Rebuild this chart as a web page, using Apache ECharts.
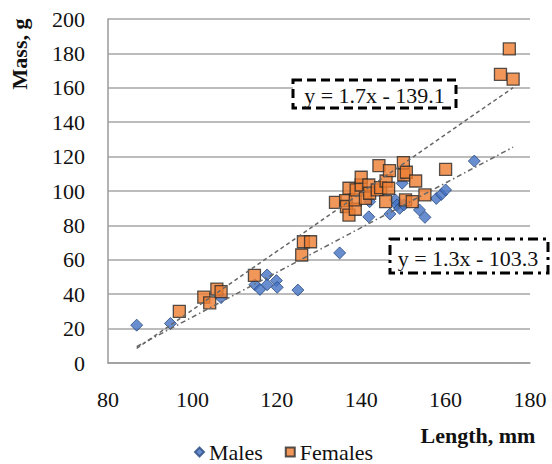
<!DOCTYPE html>
<html>
<head>
<meta charset="utf-8">
<script src="https://cdn.jsdelivr.net/npm/echarts@6.0.0/dist/echarts.min.js"></script>
<style>
html,body{margin:0;padding:0;background:#fff;}
#chart{width:552px;height:464px;}
</style>
</head>
<body>
<div id="chart"></div>
<script>
// ---- data ----
const malesLength = [86.8, 94.8, 106.8, 114.8, 116, 117.7, 117.7, 119.9, 120.1, 125, 134.9, 141.8, 142, 146.8, 148.1, 148.5, 149.1, 149.7, 150.1, 153.8, 155.1, 157.8, 159, 160, 166.8];
const malesMass   = [22, 23, 38, 45.5, 42.8, 51.2, 45.5, 47.9, 44, 42.4, 64, 85, 93.8, 86.6, 94.8, 91.9, 89.9, 104.5, 91.9, 89, 84.7, 95.7, 98, 100.6, 117.4];

const femalesLength = [96.9, 102.7, 104.1, 105.8, 106.8, 114.7, 125.9, 126.3, 128,
  133.9, 136.3, 136.5, 137.1, 137.1, 138.6, 138.6, 138.8, 140, 140, 141, 141.8, 142, 143.8, 144.2, 144.6, 145.8, 145.9, 146.5, 146.7, 150, 150.1, 150.7, 150.5, 152.1, 152.9, 155.1, 160,
  173, 175.1, 176];
const femalesMass = [30, 38.3, 35, 43, 41.5, 51, 62.8, 70.5, 70.5,
  93.4, 94.4, 91, 86, 101.6, 89.4, 94.8, 100.6, 103.5, 108, 95.7, 103.5, 98.7, 100.6, 114.7, 102, 93.8, 105.8, 101.6, 111.8, 116.5, 109.3, 110.9, 94.8, 93.8, 105.8, 97.7, 112.6,
  167.8, 182.6, 165];

const seriesNames = ['Males', 'Females'];
const fitSlopes = [1.3, 1.7];
const fitIntercepts = [-103.3, -139.1];
const fitRange = [86.8, 176];
const fitLabels = ['y = 1.3x - 103.3', 'y = 1.7x - 139.1'];
const xTicks = [80, 100, 120, 140, 160, 180];
const yTicks = [0, 20, 40, 60, 80, 100, 120, 140, 160, 180, 200];

// ---- build ----
const pairs = (xs, ys) => xs.map((x, i) => [x, ys[i]]);
const fitLine = (k) => fitRange.map(x => [x, +(fitSlopes[k] * x + fitIntercepts[k]).toFixed(2)]);
const FONT = "'Liberation Serif','Times New Roman',serif";
const FS = 22;

const chart = echarts.init(document.getElementById('chart'), null, {renderer: 'svg'});
chart.setOption({
  animation: false,
  backgroundColor: '#fff',
  grid: {left: 108, right: 22, top: 19, bottom: 101},
  xAxis: {
    type: 'value', min: xTicks[0], max: xTicks[xTicks.length - 1], interval: 20,
    axisLine: {show: true, lineStyle: {color: '#9a9a9a', width: 1.5}},
    axisTick: {show: false},
    splitLine: {show: false},
    axisLabel: {margin: 25, fontFamily: FONT, fontSize: FS, color: '#111'}
  },
  yAxis: {
    type: 'value', min: yTicks[0], max: yTicks[yTicks.length - 1], interval: 20,
    axisLine: {show: true, lineStyle: {color: '#9a9a9a', width: 1.5}},
    axisTick: {show: false},
    splitLine: {show: true, lineStyle: {color: '#a6a6a6', width: 1.5}},
    axisLabel: {margin: 23, fontFamily: FONT, fontSize: FS, color: '#111'}
  },
  legend: {
    data: [{name: seriesNames[0], icon: 'diamond'}, {name: seriesNames[1], icon: 'rect'}],
    left: 194, top: 441, itemWidth: 9, itemHeight: 9, itemGap: 22, padding: 0,
    textStyle: {fontFamily: FONT, fontSize: FS, color: '#111'}
  },
  series: [
    {
      name: seriesNames[0], type: 'scatter', symbol: 'diamond', symbolSize: 12,
      data: pairs(malesLength, malesMass),
      itemStyle: {color: '#4472C4', borderColor: '#2b4a80', borderWidth: 1}
    },
    {
      name: seriesNames[1], type: 'scatter', symbol: 'rect', symbolSize: 12,
      data: pairs(femalesLength, femalesMass),
      itemStyle: {color: '#ED7D31', borderColor: '#2a2a2a', borderWidth: 1.3}
    },
    {
      name: 'Males trend', type: 'line', showSymbol: false, symbol: 'none', data: fitLine(0),
      lineStyle: {color: '#666', width: 1.5, type: [5, 3, 1.5, 3]}, z: 3
    },
    {
      name: 'Females trend', type: 'line', showSymbol: false, symbol: 'none', data: fitLine(1),
      lineStyle: {color: '#666', width: 1.5, type: [4, 3]}, z: 3
    }
  ],
  graphic: [
    {type: 'text', x: 19, y: 54, rotation: Math.PI / 2,
     style: {text: 'Mass, g', font: "bold " + FS + "px " + FONT, fill: '#111', textAlign: 'center', textVerticalAlign: 'middle', verticalAlign: 'middle'}},
    {type: 'text', x: 478, y: 435,
     style: {text: 'Length, mm', font: "bold " + FS + "px " + FONT, fill: '#111', textAlign: 'center', textVerticalAlign: 'middle', verticalAlign: 'middle'}},
    {type: 'rect', shape: {x: 293, y: 80, width: 163, height: 28}, z: 10,
     style: {fill: '#fff', stroke: '#000', lineWidth: 3, lineDash: [9, 5]}},
    {type: 'text', x: 374.5, y: 95, z: 11,
     style: {text: fitLabels[1], font: FS + "px " + FONT, fill: '#111', textAlign: 'center', textVerticalAlign: 'middle', verticalAlign: 'middle'}},
    {type: 'rect', shape: {x: 390, y: 239, width: 158, height: 34}, z: 10,
     style: {fill: '#fff', stroke: '#000', lineWidth: 3, lineDash: [10, 5, 3, 5]}},
    {type: 'text', x: 468, y: 258, z: 11,
     style: {text: fitLabels[0], font: FS + "px " + FONT, fill: '#111', textAlign: 'center', textVerticalAlign: 'middle', verticalAlign: 'middle'}}
  ]
});
</script>
</body>
</html>
